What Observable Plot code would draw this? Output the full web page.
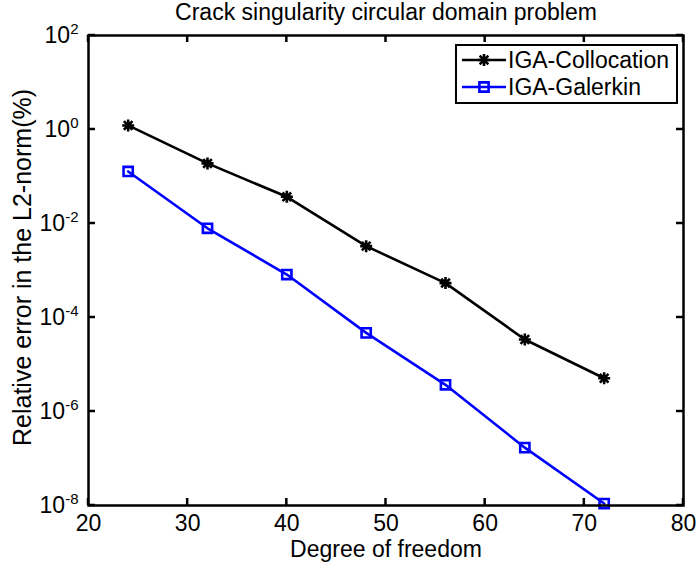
<!DOCTYPE html>
<html><head><meta charset="utf-8">
<script src="https://cdn.jsdelivr.net/npm/d3@7"></script>
<script src="https://cdn.jsdelivr.net/npm/@observablehq/plot@0.6"></script>
<style>
body{margin:0;background:#fff;}
#wrap{position:relative;width:697px;height:569px;font-family:"Liberation Sans",Arial,sans-serif;}
#legend{position:absolute;left:455px;top:44px;width:223px;height:60px;box-sizing:border-box;border:2.5px solid #000;background:#fff;}
.row{position:absolute;left:0;height:26px;width:218px;}
.row svg{position:absolute;left:5px;top:0;}
.row span{position:absolute;left:51px;top:0;line-height:26px;font-size:23px;color:#000;white-space:nowrap;}
</style></head><body><div id="wrap"></div>
<script>
const dof = [24, 32, 40, 48, 56, 64, 72];
const collocation = [1.22, 0.19, 0.037, 0.0033, 5.4e-4, 3.4e-5, 5.1e-6];
const galerkin = [0.128, 0.0079, 8.2e-4, 4.7e-5, 3.7e-6, 1.7e-7, 1.1e-8];
const seriesNames = ["IGA-Collocation", "IGA-Galerkin"];
const seriesColors = ["#000000", "#0000ff"];
const xTicks = [20, 30, 40, 50, 60, 70, 80];
const yTicks = [1e-8, 1e-6, 1e-4, 1e-2, 1e0, 1e2];
const titleText = "Crack singularity circular domain problem";
const xLabelText = "Degree of freedom";
const yLabelText = "Relative error in the L2-norm(%)";

const star8 = {draw(ctx, size) {
  const r = Math.sqrt(size / Math.PI), d = r * 0.72;
  ctx.moveTo(-r, 0); ctx.lineTo(r, 0);
  ctx.moveTo(0, -r); ctx.lineTo(0, r);
  ctx.moveTo(-d, -d); ctx.lineTo(d, d);
  ctx.moveTo(-d, d); ctx.lineTo(d, -d);
}};
const symbols = [star8, "square"];
const radii = [6, 5.2];

const seriesData = [collocation, galerkin].map(vals => dof.map((d, i) => ({dof: d, err: vals[i]})));

const W = 697, H = 569, mL = 88, mR = 14, mT = 35, mB = 64;
const font = 23;
const tk = 7;
const marks = [];
seriesData.forEach((rows, s) => {
  marks.push(Plot.line(rows, {x: "dof", y: "err", stroke: seriesColors[s], strokeWidth: 2.6}));
  marks.push(Plot.dot(rows, {x: "dof", y: "err", symbol: symbols[s], r: radii[s], stroke: seriesColors[s], strokeWidth: 2.6, fill: "none"}));
});
marks.push(
  Plot.frame({stroke: "#000", strokeWidth: 2.5}),
  Plot.axisX({ticks: xTicks, tickSize: 0, tickPadding: 9, fontSize: font, label: null, tickFormat: d => String(d)}),
  Plot.axisY({ticks: yTicks, tickSize: 0, tickPadding: 10, fontSize: font, label: null, tickFormat: d => String(Math.round(Math.log10(d)))}),
  Plot.text([titleText], {text: d => d, frameAnchor: "top", lineAnchor: "middle", textAnchor: "middle", dy: -23, fontSize: font}),
  Plot.text([xLabelText], {text: d => d, frameAnchor: "bottom", lineAnchor: "middle", textAnchor: "middle", dy: 44, fontSize: font}),
  Plot.text([yLabelText], {text: d => d, frameAnchor: "left", lineAnchor: "middle", textAnchor: "middle", dx: -66, dy: -3, rotate: -90, fontSize: 25})
);

const svg = Plot.plot({
  width: W, height: H,
  marginLeft: mL, marginRight: mR, marginTop: mT, marginBottom: mB,
  style: {fontFamily: '"Liberation Sans", Arial, sans-serif', color: "#000", background: "#fff", overflow: "visible"},
  x: {domain: [20, 80], label: null},
  y: {type: "log", domain: [1e-8, 1e2], label: null},
  marks
});

// inward tick marks on all four sides, placed with the plot's own scales
const sx = svg.scale("x"), sy = svg.scale("y");
const fTop = mT, fBottom = H - mB, fLeft = mL, fRight = W - mR;
const tg = d3.select(svg).append("g").attr("aria-label", "inward ticks")
  .attr("stroke", "#000").attr("stroke-width", 2.5);
xTicks.forEach(v => {
  const px = sx.apply(v);
  tg.append("line").attr("x1", px).attr("x2", px).attr("y1", fBottom).attr("y2", fBottom - tk);
  tg.append("line").attr("x1", px).attr("x2", px).attr("y1", fTop).attr("y2", fTop + tk);
});
yTicks.forEach(v => {
  const py = sy.apply(v);
  tg.append("line").attr("y1", py).attr("y2", py).attr("x1", fLeft).attr("x2", fLeft + tk);
  tg.append("line").attr("y1", py).attr("y2", py).attr("x1", fRight).attr("x2", fRight - tk);
});

d3.select(svg).selectAll('g[aria-label="y-axis tick label"] text').each(function () {
  const e = this.textContent;
  if (!e) return;
  const t = d3.select(this);
  t.text(null);
  t.append("tspan").text("10");
  t.append("tspan").attr("dy", "-0.62em").attr("font-size", "15px").text(e);
});

const wrap = document.getElementById("wrap");
wrap.appendChild(svg);

const legend = d3.select(wrap).append("div").attr("id", "legend");
seriesNames.forEach((name, s) => {
  const row = legend.append("div").attr("class", "row").style("top", (1 + s * 27) + "px");
  const sw = row.append("svg").attr("width", 44).attr("height", 26);
  sw.append("line").attr("x1", 0).attr("x2", 44).attr("y1", 13).attr("y2", 13)
    .attr("stroke", seriesColors[s]).attr("stroke-width", 2.6);
  const type = symbols[s] === "square" ? d3.symbolSquare : symbols[s];
  sw.append("path").attr("transform", "translate(22,13)")
    .attr("d", d3.symbol(type, Math.PI * radii[s] * radii[s])())
    .attr("fill", "none").attr("stroke", seriesColors[s]).attr("stroke-width", 2.6);
  row.append("span").text(name);
});
</script></body></html>
